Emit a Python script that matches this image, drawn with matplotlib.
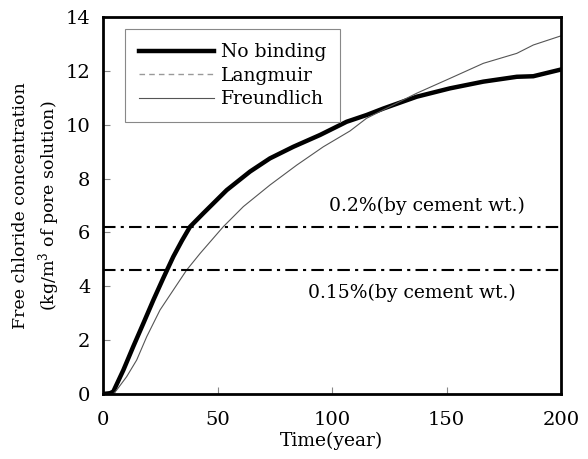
import matplotlib
matplotlib.use("Agg")
import matplotlib.pyplot as plt
from matplotlib.lines import Line2D

plt.rcParams["font.family"] = ["DejaVu Serif"]
plt.rcParams["mathtext.fontset"] = "dejavuserif"

# free chloride concentration (kg/m3 of pore solution) against time (year)
t_nobind = [0, 3.1, 4.5, 8.9, 13.2, 17.6, 22, 26.3, 30.7, 34.5, 38, 43.8,
            54, 64.2, 72.9, 83.1, 94.8, 106.4, 115.1, 122.4, 137, 151.5,
            166.1, 180.7, 187.9, 200]
c_nobind = [0, 0.03, 0.09, 0.89, 1.76, 2.62, 3.49, 4.3, 5.1, 5.7, 6.21, 6.71,
            7.57, 8.26, 8.75, 9.18, 9.62, 10.11, 10.36, 10.6, 11.04, 11.35,
            11.6, 11.78, 11.8, 12.05]

t_freund = [0, 4.5, 6, 10.3, 14.7, 19.1, 24.9, 30.7, 36.5, 42.4, 52.5, 61.3,
            72.9, 84.6, 96.2, 107.9, 115.1, 122.4, 137, 151.5, 166.1, 180.7,
            187.9, 200]
c_freund = [0, 0, 0.15, 0.64, 1.26, 2.13, 3.12, 3.86, 4.6, 5.22, 6.21, 6.96,
            7.76, 8.5, 9.18, 9.77, 10.24, 10.55, 11.17, 11.72, 12.28, 12.65,
            12.96, 13.3]

# chloride thresholds
limits = [6.2, 4.6]
limit_labels = ["0.2%(by cement wt.)", "0.15%(by cement wt.)"]
label_pos = [(141.5, 7.0), (135, 3.75)]

fig = plt.figure(figsize=(5.88, 4.59), dpi=100)
ax = fig.add_axes([103 / 588, 65 / 459, 458 / 588, 377 / 459])

ax.plot(t_nobind, c_nobind, color="black", lw=3.2, solid_joinstyle="round")
ax.plot(t_freund, c_freund, color="#555555", lw=0.8)

for lim, txt, (tx, ty) in zip(limits, limit_labels, label_pos):
    ax.axhline(lim, color="black", lw=1.5, ls=(0, (6, 2.5, 1.5, 2.5)))
    ax.text(tx, ty, txt, ha="center", va="center", fontsize=13.5)

ax.set_xlim(0, 200)
ax.set_ylim(0, 14)
ax.set_xticks([0, 50, 100, 150, 200])
ax.set_yticks(range(0, 15, 2))
ax.tick_params(direction="in", length=5, width=0.8, color="#888888",
               labelsize=14)
ax.tick_params(axis="x", pad=12)
ax.tick_params(axis="y", pad=9)
for s in ax.spines.values():
    s.set_linewidth(2)

ax.set_xlabel("Time(year)", fontsize=13.5, labelpad=2)
ax.set_ylabel("Free chloride concentration\n(kg/m$^3$ of pore solution)",
              fontsize=12.5, labelpad=3, linespacing=1.35)

handles = [Line2D([], [], color="black", lw=3.2),
           Line2D([], [], color="#999999", lw=1, ls=(0, (4, 3))),
           Line2D([], [], color="#555555", lw=0.8)]
leg = ax.legend(handles, ["No binding", "Langmuir", "Freundlich"],
                loc="upper left", bbox_to_anchor=(0.048, 0.968),
                fontsize=13.5, handlelength=4.0, handletextpad=0.35,
                borderpad=0.75, labelspacing=0.3, borderaxespad=0,
                fancybox=False, edgecolor="#888888", framealpha=1)
leg.get_frame().set_linewidth(0.8)

fig.savefig("out.png", dpi=100, facecolor="white")
